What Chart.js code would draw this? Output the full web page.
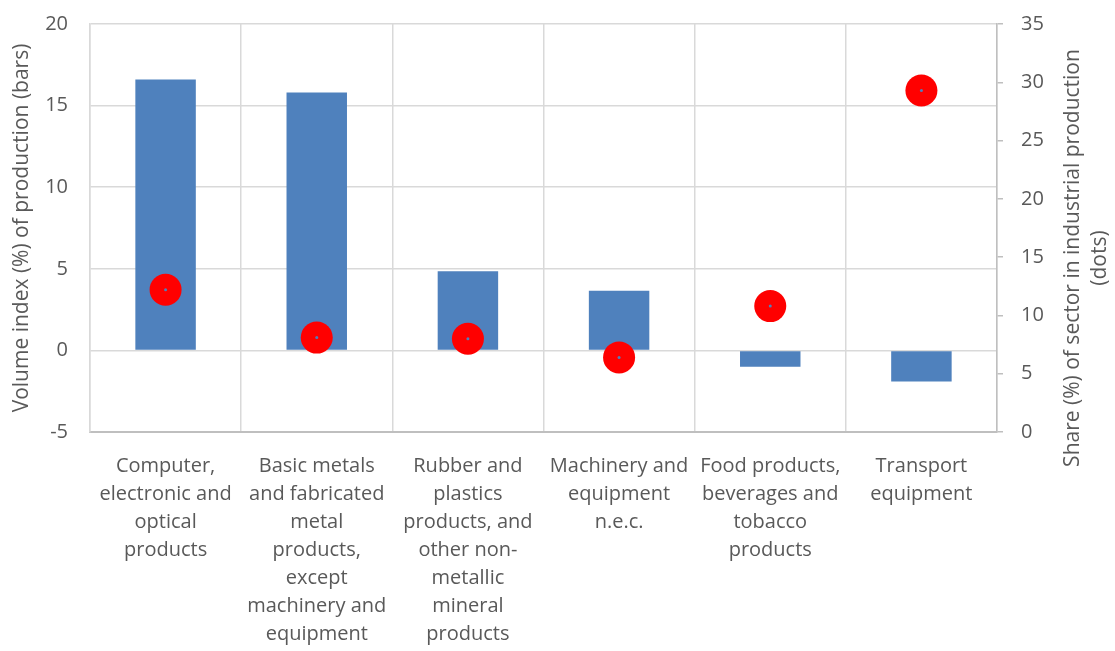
<!DOCTYPE html>
<html>
<head>
<meta charset="utf-8">
<script src="https://cdn.jsdelivr.net/npm/chart.js@4.4.1/dist/chart.umd.min.js"></script>
<style>
  html, body { margin: 0; padding: 0; background: #fff; }
  #wrap { width: 1115px; height: 651px; }
</style>
</head>
<body>
<div id="wrap"><canvas id="chart"></canvas></div>
<script>
const categories = [
  ["Computer,", "electronic and", "optical", "products"],
  ["Basic metals", "and fabricated", "metal", "products,", "except", "machinery and", "equipment"],
  ["Rubber and", "plastics", "products, and", "other non-", "metallic", "mineral", "products"],
  ["Machinery and", "equipment", "n.e.c."],
  ["Food products,", "beverages and", "tobacco", "products"],
  ["Transport", "equipment"]
];
const volumeIndex = [16.6, 15.8, 4.85, 3.65, -1.0, -1.9];
const sectorShare = [12.2, 8.1, 8.0, 6.4, 10.8, 29.3];
const leftTitle = "Volume index (%) of production (bars)";
const rightTitle = ["Share (%) of sector in industrial production", "(dots)"];

const FONT = "'Open Sans', Lato, sans-serif";
const TEXT = "#595959";
const GRID = "#d9d9d9";

// right axis title reads bottom-to-top in the original, so draw it by hand
const rightTitlePlugin = {
  id: "rightTitle",
  afterDraw(chart) {
    const { ctx, chartArea } = chart;
    ctx.save();
    ctx.font = "21px " + FONT;
    ctx.fillStyle = TEXT;
    ctx.textAlign = "center";
    ctx.textBaseline = "middle";
    ctx.translate(chartArea.right + 76, (chartArea.top + chartArea.bottom) / 2 + 30);
    ctx.rotate(-Math.PI / 2);
    rightTitle.forEach((line, i) => ctx.fillText(line, 0, i * 27));
    ctx.restore();
  }
};

new Chart(document.getElementById("chart"), {
  type: "bar",
  data: {
    labels: categories,
    datasets: [
      {
        type: "line",
        data: sectorShare,
        yAxisID: "y2",
        showLine: false,
        pointRadius: 1.5,
        pointBackgroundColor: "#4f81bd",
        pointBorderWidth: 0,
        order: 1
      },
      {
        type: "line",
        data: sectorShare,
        yAxisID: "y2",
        showLine: false,
        pointRadius: 16,
        pointBackgroundColor: "#ff0000",
        pointBorderWidth: 0,
        order: 2
      },
      {
        type: "bar",
        data: volumeIndex,
        yAxisID: "y",
        backgroundColor: "#4f81bd",
        categoryPercentage: 1,
        barPercentage: 0.4,
        order: 3
      }
    ]
  },
  options: {
    responsive: true,
    maintainAspectRatio: false,
    animation: false,
    layout: { padding: { top: 24, bottom: 0, left: 0, right: 0 } },
    plugins: { legend: { display: false }, tooltip: { enabled: false } },
    scales: {
      x: {
        offset: true,
        grid: { offset: true, color: GRID, lineWidth: 1.5, drawTicks: false },
        border: { color: "#bfbfbf", width: 2 },
        ticks: { color: TEXT, font: { family: FONT, size: 20, lineHeight: 1.4 }, padding: 20, maxRotation: 0, autoSkip: false },
        afterFit: (s) => { s.height = 219; }
      },
      y: {
        position: "left",
        min: -5,
        max: 20,
        ticks: { stepSize: 5, color: TEXT, font: { family: FONT, size: 20 }, padding: 22 },
        grid: { color: GRID, lineWidth: 1.5, drawTicks: false },
        border: { color: GRID, width: 1.5 },
        title: { display: true, text: leftTitle, color: TEXT, font: { family: FONT, size: 21 }, padding: { top: 9, bottom: 0 } },
        afterFit: (s) => { s.width = 90; s.paddingTop = 0; s.paddingBottom = 0; }
      },
      y2: {
        position: "right",
        min: 0,
        max: 35,
        ticks: { stepSize: 5, color: TEXT, font: { family: FONT, size: 20 }, padding: 18 },
        grid: { drawOnChartArea: false, drawTicks: true, tickLength: 6, color: "#bfbfbf", lineWidth: 1.5 },
        border: { color: "#bfbfbf", width: 1.5 },
        afterFit: (s) => { s.width = 118; s.paddingTop = 0; s.paddingBottom = 0; }
      }
    }
  },
  plugins: [rightTitlePlugin]
});
</script>
</body>
</html>
